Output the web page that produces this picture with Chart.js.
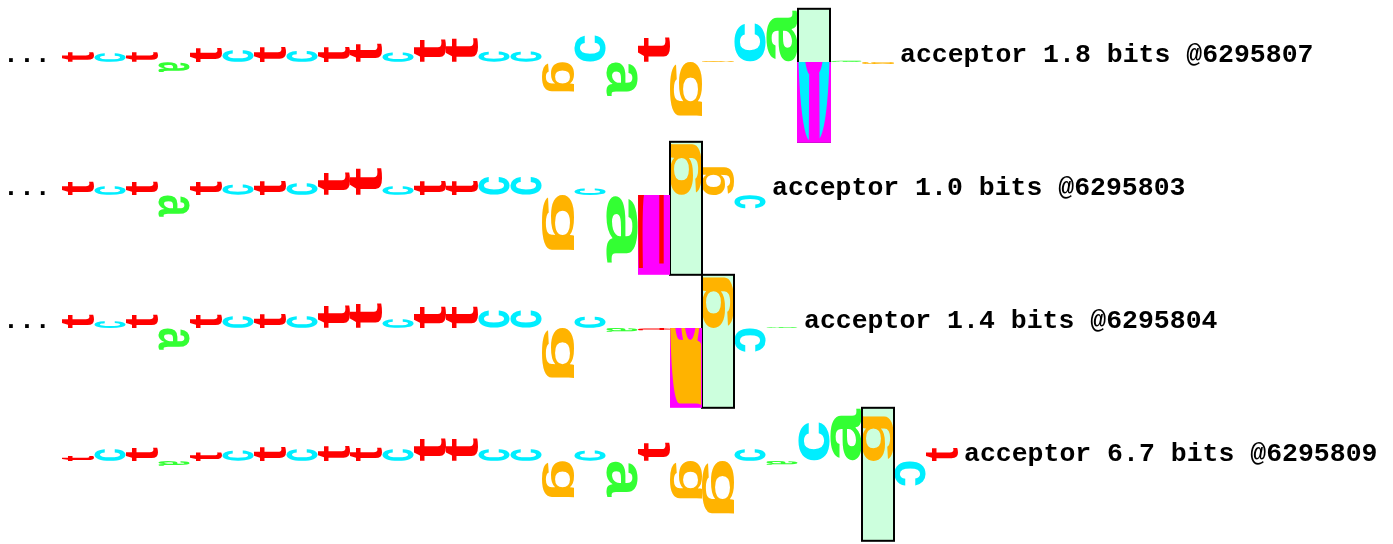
<!DOCTYPE html>
<html>
<head>
<meta charset="utf-8">
<script src="https://cdn.jsdelivr.net/npm/chart.js@4.4.1/dist/chart.umd.min.js"></script>
<style>
  html, body { margin: 0; padding: 0; background: #fff; }
  #wrap { width: 1393px; height: 544px; }
</style>
</head>
<body>
<div id="wrap"><canvas id="walker" width="1393" height="544"></canvas></div>
<script>
// Sequence shared by the four walkers (column 0 = leftmost letter)
const sequence = ['t','c','t','a','t','c','t','c','t','t','c','t','t','c','c',
                  'g','c','a','t','g','g','c','a','c','a','g','c','t'];

// Bits per column for each walker. -Infinity = base never seen (purple box)
const row1Bits = [0.38, 0.33, 0.38, -0.38, 0.54, 0.45, 0.58, 0.42, 0.58, 0.70, 0.36, 0.87, 0.92, 0.39, 0.39,
                  -1.12, 1.00, -1.30, 0.95, -2.05, 0.04, 1.45, 1.96, -Infinity, 0.05, -0.08];
const row2Bits = [0.52, 0.33, 0.52, -0.83, 0.52, 0.39, 0.54, 0.45, 0.87, 1.03, 0.33, 0.54, 0.54, 0.68, 0.68,
                  -2.10, 0.25, -2.57, -Infinity, 1.94, 1.06, -0.50];
const row3Bits = [0.52, 0.26, 0.52, -0.83, 0.52, 0.45, 0.54, 0.45, 0.87, 0.95, 0.33, 0.83, 0.83, 0.66, 0.66,
                  -1.90, 0.43, -0.15, -0.08, -Infinity, 1.93, -0.90, 0.03];
const row4Bits = [0.20, 0.45, 0.52, -0.18, 0.33, 0.39, 0.54, 0.45, 0.58, 0.52, 0.45, 0.87, 0.87, 0.45, 0.45,
                  -1.37, 0.39, -1.37, 0.70, -1.43, -2.00, 0.45, -0.15, 1.45, 2.00, 1.70, -0.93, 0.51];

// Per walker: zero column, total bits, genome coordinate, left end cut off?
const zeroPos = [23, 19, 20, 25];
const siteBits = ['1.8', '1.0', '1.4', '6.7'];
const sitePos = [6295807, 6295803, 6295804, 6295809];
const truncated = [true, true, true, false];

const baseColors = { a: '#33ff33', c: '#00eeff', g: '#ffb300', t: '#ff0000' };

const rows = [row1Bits, row2Bits, row3Bits, row4Bits];
const ROW_STEP = 5;        // bits between walker baselines
const BOX_TOP = 2, BOX_BOTTOM = -3;

// scale ranges so that 1 column = 32px, 1 bit = 26.6px
const X_MIN = -62 / 32, X_MAX = X_MIN + 1393 / 32;
const Y_MAX = 62 / 26.6, Y_MIN = Y_MAX - 544 / 26.6;

// draw one base letter, turned on its side and stretched to the cell
function drawBase(ctx, letter, xL, yB, w, h, up) {
    if (h < 0.5) h = 0.5;
    ctx.save();
    ctx.font = 'bold 100px "Liberation Sans", Arial, sans-serif';
    ctx.textAlign = 'left';
    ctx.textBaseline = 'alphabetic';
    const m = ctx.measureText(letter);
    const L = m.actualBoundingBoxLeft, R = m.actualBoundingBoxRight;
    const A = m.actualBoundingBoxAscent, D = m.actualBoundingBoxDescent;
    const W = L + R, H = A + D;
    ctx.fillStyle = baseColors[letter];
    if (up) ctx.transform(0, -h / W, w / H, 0, xL + A * w / H, yB - L * h / W);
    else ctx.transform(0, h / W, -w / H, 0, xL + w - A * w / H, yB + L * h / W);
    ctx.fillText(letter, 0, 0);
    ctx.restore();
}

const walkerPlugin = {
    id: 'walker',
    afterDatasetsDraw(chart) {
        const ctx = chart.ctx;
        const xs = chart.scales.x, ys = chart.scales.y;
        rows.forEach((bits, r) => {
            const base = -r * ROW_STEP;
            const yB = ys.getPixelForValue(base);
            const colL = i => xs.getPixelForValue(i);
            const colW = i => xs.getPixelForValue(i + 1) - xs.getPixelForValue(i);

            // zero-coordinate box
            const z = zeroPos[r];
            const bx = colL(z), bw = colW(z);
            const bTop = ys.getPixelForValue(base + BOX_TOP);
            const bBot = ys.getPixelForValue(base + BOX_BOTTOM);
            ctx.fillStyle = '#ccffdd';
            ctx.fillRect(bx, bTop, bw, bBot - bTop);

            bits.forEach((b, i) => {
                if (!isFinite(b)) return;
                const h = Math.abs(ys.getPixelForValue(base + b) - yB);
                drawBase(ctx, sequence[i], colL(i), yB, colW(i), h, b >= 0);
            });

            ctx.strokeStyle = '#000';
            ctx.lineWidth = 2;
            ctx.strokeRect(bx, bTop, bw, bBot - bTop);

            // bases that were never seen: purple box, the over-tall letter cut to it
            bits.forEach((b, i) => {
                if (b !== -Infinity) return;
                let x = colL(i), w = colW(i), bottom = bBot;
                if (i === z) { x -= 1; w += 2; bottom += 1; }
                const hw = bBot - yB;
                ctx.save();
                ctx.fillStyle = '#ff00ff';
                ctx.fillRect(x, yB, w, bottom - yB);
                ctx.beginPath();
                ctx.rect(x, yB, w, bottom - yB);
                ctx.clip();
                drawBase(ctx, sequence[i], colL(i), yB - 2 * hw, colW(i), 3 * hw, false);
                ctx.restore();
            });

            ctx.save();
            ctx.font = 'bold 26.5px "Liberation Mono", "DejaVu Sans Mono", monospace';
            ctx.fillStyle = '#000';
            ctx.textBaseline = 'alphabetic';
            ctx.textAlign = 'left';
            ctx.fillText('acceptor ' + siteBits[r] + ' bits @' + sitePos[r], colL(bits.length) + 6, yB);
            if (truncated[r]) ctx.fillText('...', 3, yB);
            ctx.restore();
        });
    }
};

const datasets = rows.map((bits, r) => ({
    label: 'walker ' + (r + 1),
    data: bits.map((b, i) => ({ x: i + 0.5, y: -r * ROW_STEP + (isFinite(b) ? b : BOX_BOTTOM) })),
    pointRadius: 0,
    showLine: false
}));

new Chart(document.getElementById('walker'), {
    type: 'scatter',
    data: { datasets },
    options: {
        responsive: false,
        animation: false,
        devicePixelRatio: 1,
        layout: { padding: 0 },
        plugins: { legend: { display: false }, tooltip: { enabled: false } },
        scales: {
            x: { type: 'linear', min: X_MIN, max: X_MAX, display: false },
            y: { type: 'linear', min: Y_MIN, max: Y_MAX, display: false }
        }
    },
    plugins: [walkerPlugin]
});
</script>
</body>
</html>
